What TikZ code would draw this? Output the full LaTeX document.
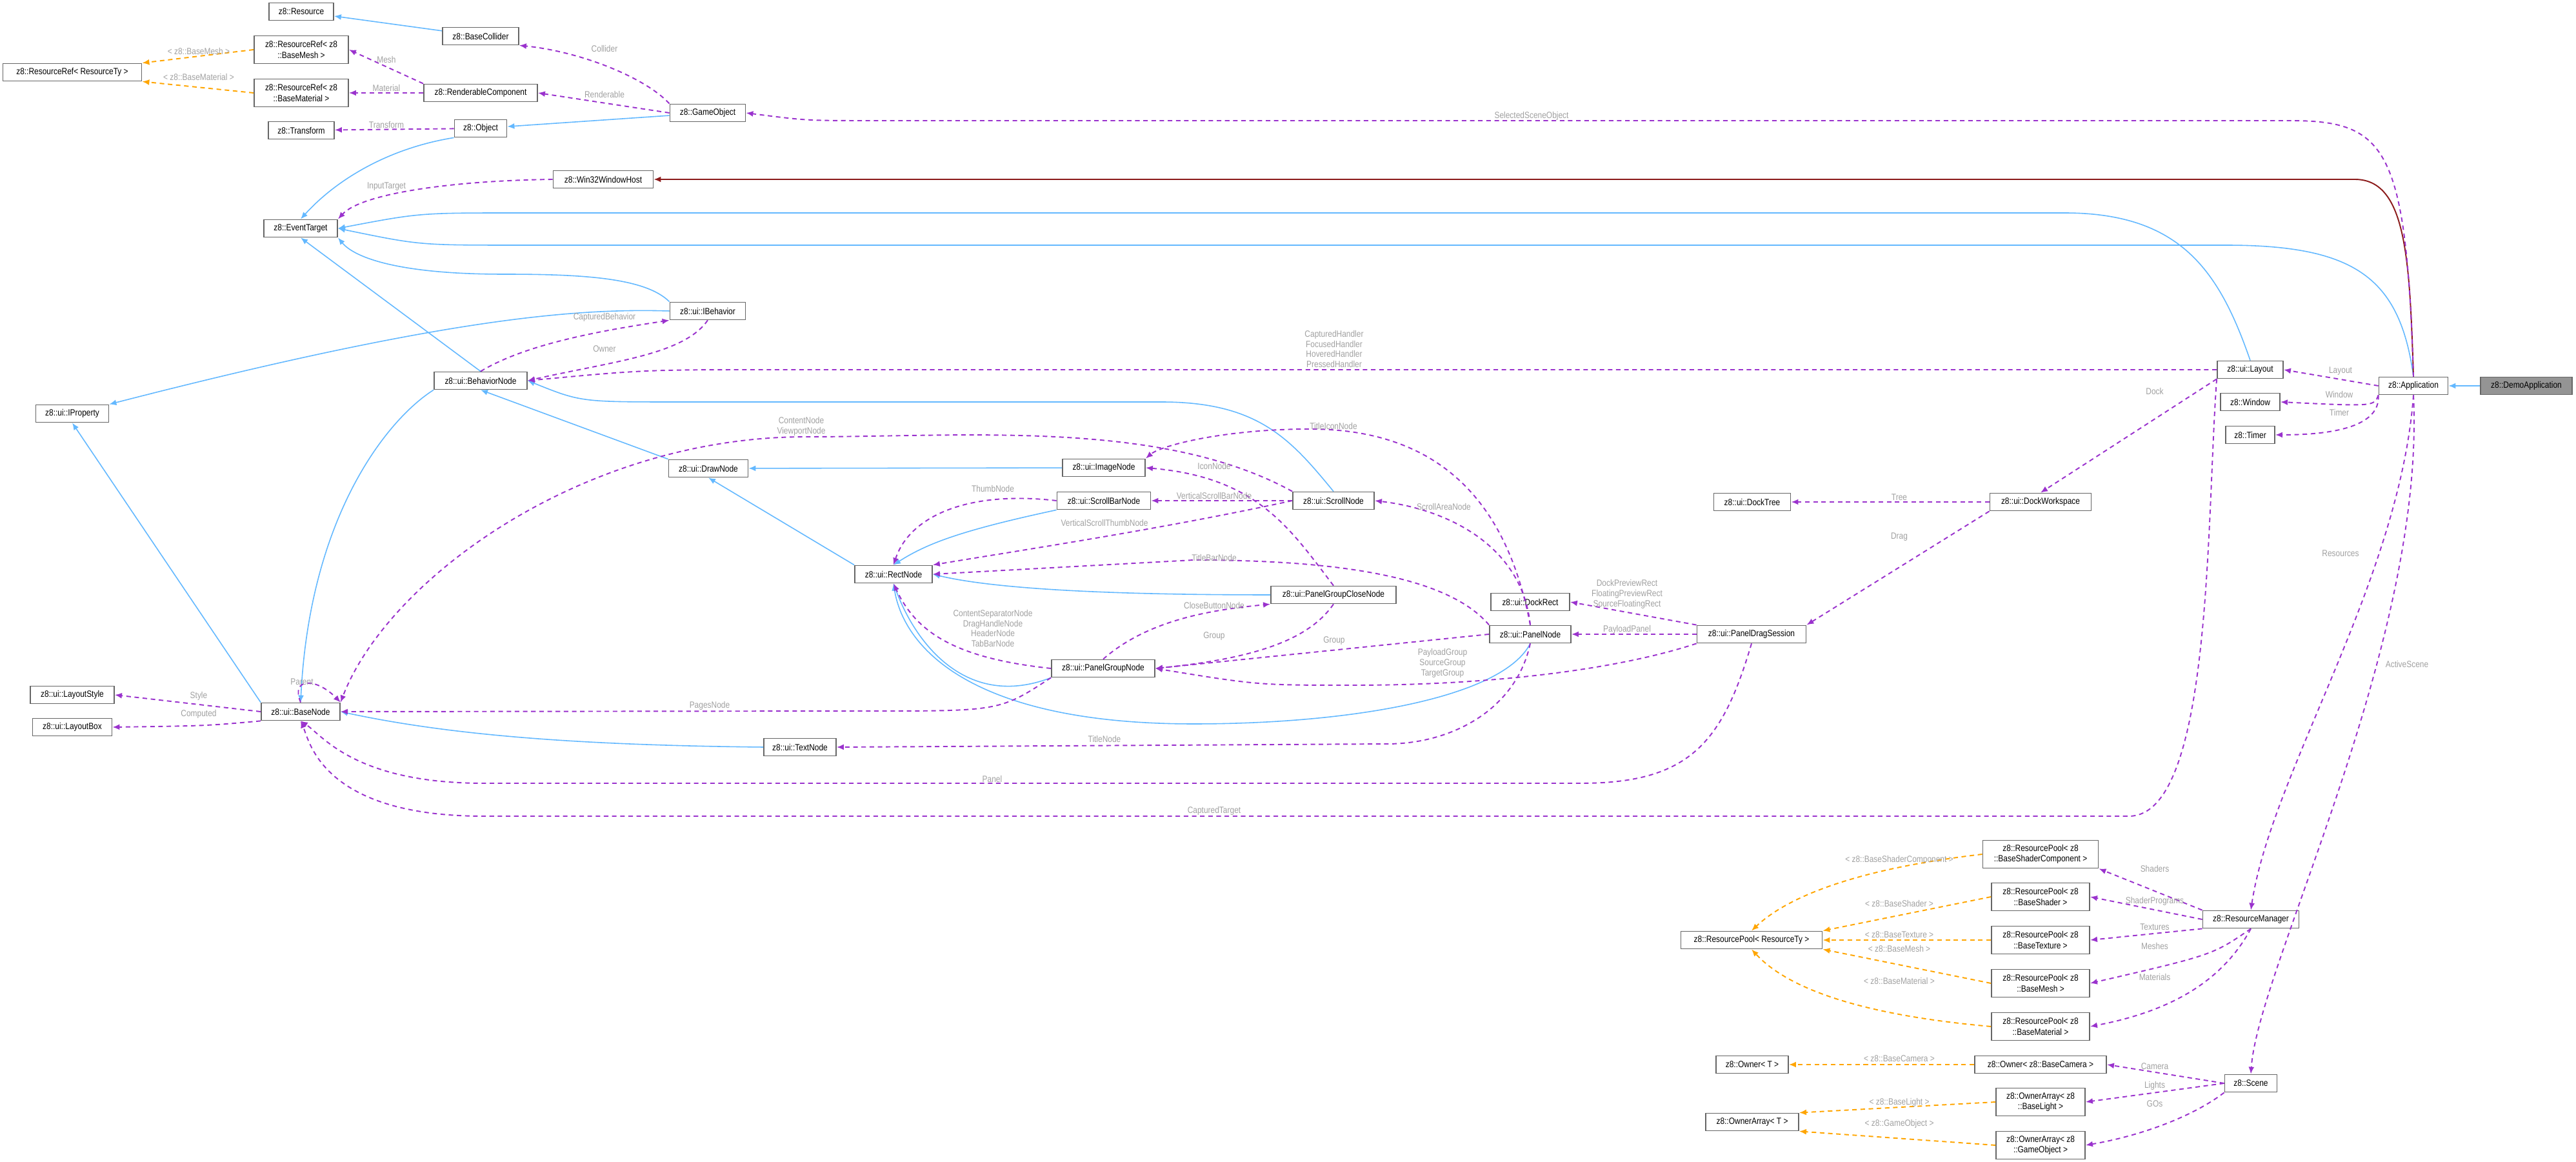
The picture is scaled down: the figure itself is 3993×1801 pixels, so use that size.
\documentclass[tikz,border=0pt]{standalone}
\usepackage{fontspec}
\setmainfont{Liberation Sans}[FakeStretch=0.85]
\usetikzlibrary{arrows.meta,positioning}
\definecolor{inherit}{RGB}{99,184,255}
\definecolor{usage}{RGB}{154,50,205}
\definecolor{templ}{RGB}{255,165,0}
\definecolor{privat}{RGB}{139,26,26}
\definecolor{boxgray}{RGB}{102,102,102}
\definecolor{lblgray}{RGB}{160,160,160}
\tikzset{x=0.01cm}
\tikzset{y=-0.01cm}
\tikzstyle{cls}=[draw=boxgray, fill=white, line width=0.5pt, minimum height=0.27cm, minimum width=#1, inner sep=0.5pt, align=center, font=\fontsize{4}{4.6}\selectfont]
\tikzstyle{cls2}=[cls=#1, minimum height=0.43cm]
\tikzstyle{lbl}=[text=lblgray, inner sep=0pt, align=center, font=\fontsize{4}{4.5}\selectfont]
\tikzset{inh/.style={-{Latex[length=0.11cm,width=0.09cm]}, inherit, line width=0.45pt}}
\tikzset{use/.style={-{Latex[length=0.11cm,width=0.09cm]}, usage, line width=0.55pt, dash pattern=on 2pt off 1.6pt}}
\tikzset{tpl/.style={-{Latex[length=0.11cm,width=0.09cm]}, templ, line width=0.55pt, dash pattern=on 2pt off 1.6pt}}
\tikzset{priv/.style={-{Latex[length=0.11cm,width=0.09cm]}, privat, line width=0.55pt}}
\begin{document}
\begin{tikzpicture}
  \useasboundingbox (0,0) rectangle (3993,1801);
  %% core classes
  \node[cls=1cm] (res) at (467,18) {z8::Resource};
  \node[cls=1.18cm] (bcol) at (745,56) {z8::BaseCollider};
  \node[cls2=1.46cm] (rrmesh) at (467,77) {z8::ResourceRef< z8\\::BaseMesh >};
  \node[cls=2.15cm] (rrty) at (112,112) {z8::ResourceRef< ResourceTy >};
  \node[cls2=1.46cm] (rrmat) at (467,144) {z8::ResourceRef< z8\\::BaseMaterial >};
  \node[cls=1.76cm] (rend) at (745,144) {z8::RenderableComponent};
  \node[cls=1.17cm] (gobj) at (1097,175) {z8::GameObject};
  \node[cls=1.02cm] (trans) at (467,202) {z8::Transform};
  \node[cls=0.81cm] (obj) at (745,199) {z8::Object};
  \node[cls=1.55cm] (win32) at (935,278) {z8::Win32WindowHost};
  \node[cls=1.14cm] (evt) at (466,354) {z8::EventTarget};
  \node[cls=1.17cm] (ibeh) at (1097,482) {z8::ui::IBehavior};
  \node[cls=1.44cm] (bnode) at (745,590) {z8::ui::BehaviorNode};
  \node[cls=1.13cm] (iprop) at (112,641) {z8::ui::IProperty};

  %% ui nodes
  \node[cls=1.23cm] (draw) at (1098,726) {z8::ui::DrawNode};
  \node[cls=1.28cm] (img) at (1711,725) {z8::ui::ImageNode};
  \node[cls=1.45cm] (sbar) at (1711,776) {z8::ui::ScrollBarNode};
  \node[cls=1.26cm] (scroll) at (2067,776) {z8::ui::ScrollNode};
  \node[cls=1.20cm] (rect) at (1385,890) {z8::ui::RectNode};
  \node[cls=1.94cm] (pgclose) at (2067,922) {z8::ui::PanelGroupCloseNode};
  \node[cls=1.60cm] (pgroup) at (1710,1036) {z8::ui::PanelGroupNode};
  \node[cls=1.26cm] (panel) at (2372,983) {z8::ui::PanelNode};
  \node[cls=1.22cm] (drect) at (2372,933) {z8::ui::DockRect};
  \node[cls=1.69cm] (drag) at (2715,983) {z8::ui::PanelDragSession};
  \node[cls=1.19cm] (dtree) at (2716,778) {z8::ui::DockTree};
  \node[cls=1.57cm] (dws) at (3163,778) {z8::ui::DockWorkspace};
  \node[cls=1.30cm] (lstyle) at (112,1077) {z8::ui::LayoutStyle};
  \node[cls=1.23cm] (lbox) at (112,1127) {z8::ui::LayoutBox};
  \node[cls=1.22cm] (base) at (466,1103) {z8::ui::BaseNode};
  \node[cls=1.12cm] (text) at (1240,1158) {z8::ui::TextNode};

  %% application side
  \node[cls=1.02cm] (layout) at (3488,573) {z8::ui::Layout};
  \node[cls=1.07cm] (app) at (3741,598) {z8::Application};
  \node[cls=1.42cm, fill=boxgray!70] (demo) at (3916,598) {z8::DemoApplication};
  \node[cls=0.92cm] (window) at (3488,623) {z8::Window};
  \node[cls=0.76cm] (timer) at (3488,674) {z8::Timer};
  \node[cls=1.49cm] (rman) at (3489,1425) {z8::ResourceManager};
  \node[cls=0.81cm] (scene) at (3489,1679) {z8::Scene};

  %% resource pools and owners
  \node[cls2=1.79cm] (rpcomp) at (3163,1324) {z8::ResourcePool< z8\\::BaseShaderComponent >};
  \node[cls2=1.52cm] (rpshader) at (3163,1390) {z8::ResourcePool< z8\\::BaseShader >};
  \node[cls2=1.52cm] (rptex) at (3163,1457) {z8::ResourcePool< z8\\::BaseTexture >};
  \node[cls2=1.52cm] (rpmesh) at (3163,1524) {z8::ResourcePool< z8\\::BaseMesh >};
  \node[cls2=1.52cm] (rpmat) at (3163,1591) {z8::ResourcePool< z8\\::BaseMaterial >};
  \node[cls=2.19cm] (rpty) at (2715,1457) {z8::ResourcePool< ResourceTy >};
  \node[cls=1.12cm] (ownt) at (2716,1650) {z8::Owner< T >};
  \node[cls=2.04cm] (owncam) at (3163,1650) {z8::Owner< z8::BaseCamera >};
  \node[cls=1.44cm] (oat) at (2716,1739) {z8::OwnerArray< T >};
  \node[cls2=1.38cm] (oalight) at (3163,1708) {z8::OwnerArray< z8\\::BaseLight >};
  \node[cls2=1.38cm] (oago) at (3163,1775) {z8::OwnerArray< z8\\::GameObject >};

  %% inheritance
  \draw[inh] (bcol) -- (res);
  \draw[inh] (gobj) -- (obj);
  \draw[inh] (obj.south west) .. controls (600,230) and (520,280) .. (evt.north);
  \draw[inh] (layout.north) .. controls (3440,420) and (3380,330) .. (3200,330) -- (800,330) .. controls (650,330) .. (evt.east);
  \draw[inh] (app.north) .. controls (3720,430) and (3650,380) .. (3450,380) -- (800,380) .. controls (650,380) .. (evt.east);
  \draw[inh] (ibeh.north west) .. controls (1000,430) and (900,425) .. (780,425) .. controls (620,425) and (550,400) .. (evt.south east);
  \draw[inh] (bnode.north) -- (evt.south);
  \draw[inh] (ibeh.west) .. controls (900,478) and (700,490) .. (iprop.north east);
  \draw[inh] (base.north west) -- (iprop.south);
  \draw[inh] (bnode.south west) .. controls (600,650) and (480,800) .. (base.north);
  \draw[inh] (draw.north west) -- (bnode.south);
  \draw[inh] (scroll.north) .. controls (2000,680) and (1950,623) .. (1800,623) -- (1050,623) .. controls (900,623) .. (bnode.east);
  \draw[inh] (img) -- (draw);
  \draw[inh] (rect.north west) -- (draw.south);
  \draw[inh] (sbar.south west) .. controls (1500,820) and (1440,840) .. (rect.north);
  \draw[inh] (pgclose.west) .. controls (1750,922) and (1550,915) .. (rect.east);
  \draw[inh] (pgroup.south west) .. controls (1500,1100) and (1420,1000) .. (rect.south);
  \draw[inh] (panel.south) .. controls (2330,1080) and (2100,1122) .. (1850,1122) .. controls (1500,1122) and (1400,1000) .. (rect.south);
  \draw[inh] (text.west) .. controls (900,1155) and (700,1140) .. (base.east);
  \draw[inh] (demo) -- (app);
  \draw[priv] (app.north) .. controls (3735,400) and (3730,278) .. (3650,278) -- (win32.east);

  %% members
  \draw[use] (gobj.north west) .. controls (1000,120) and (900,80) .. (bcol.south east);
  \draw[use] (rend.north west) -- (rrmesh.east);
  \draw[use] (rend) -- (rrmat);
  \draw[use] (gobj.west) -- (rend.east);
  \draw[use] (obj) -- (trans);
  \draw[use] (win32.west) .. controls (700,280) and (560,300) .. (evt.north east);
  \draw[use] (app.north) .. controls (3730,230) and (3700,187) .. (3550,187) -- (1350,187) .. controls (1250,187) .. (gobj.east);
  \draw[use] (bnode.north) .. controls (820,530) and (950,510) .. (ibeh.south west);
  \draw[use] (ibeh.south) .. controls (1060,550) and (950,560) .. (bnode.east);
  \draw[use] (layout.west) -- (1200,573) .. controls (1000,573) .. (bnode.east);
  \draw[use] (base.north) .. controls (450,1050) and (490,1050) .. (base.north east);
  \draw[use] (base.west) -- (lstyle.east);
  \draw[use] (base.south west) .. controls (320,1125) .. (lbox.east);
  \draw[use] (scroll.north west) .. controls (1800,650) and (1500,677) .. (1250,677) .. controls (900,677) and (600,900) .. (base.north east);
  \draw[use] (panel.north) .. controls (2340,800) and (2250,665) .. (2030,665) .. controls (1900,665) and (1800,690) .. (img.north east);
  \draw[use] (pgclose.north) .. controls (2000,820) and (1950,740) .. (img.east);
  \draw[use] (sbar.west) .. controls (1500,760) and (1410,800) .. (rect.north);
  \draw[use] (scroll) -- (sbar);
  \draw[use] (scroll.west) .. controls (1800,820) and (1600,850) .. (rect.north east);
  \draw[use] (panel.north west) .. controls (2250,900) and (2100,868) .. (1850,868) -- (rect.east);
  \draw[use] (panel.north) .. controls (2360,850) and (2250,790) .. (scroll.east);
  \draw[use] (pgroup.west) .. controls (1480,1020) and (1420,980) .. (rect.south);
  \draw[use] (pgroup.north) .. controls (1780,960) and (1880,945) .. (pgclose.south west);
  \draw[use] (pgclose.south) .. controls (2030,990) and (1950,1020) .. (pgroup.east);
  \draw[use] (panel.west) -- (pgroup.east);
  \draw[use] (drag.south west) .. controls (2500,1040) and (2300,1062) .. (2100,1062) .. controls (1950,1062) .. (pgroup.east);
  \draw[use] (pgroup.south west) .. controls (1550,1102) .. (1350,1102) -- (base.east);
  \draw[use] (panel.south) .. controls (2350,1100) and (2250,1153) .. (2150,1153) -- (text.east);
  \draw[use] (drag.south) .. controls (2670,1150) and (2620,1214) .. (2450,1214) -- (750,1214) .. controls (550,1214) and (500,1140) .. (base.south);
  \draw[use] (layout.south west) .. controls (3420,800) and (3430,1265) .. (3300,1265) -- (750,1265) .. controls (500,1265) and (480,1150) .. (base.south);
  \draw[use] (drag.north west) -- (drect.east);
  \draw[use] (drag) -- (panel);
  \draw[use] (dws) -- (dtree);
  \draw[use] (dws.south west) -- (drag.north east);
  \draw[use] (layout.south west) -- (dws.north);
  \draw[use] (app.west) -- (layout.east);
  \draw[use] (app.south west) .. controls (3680,630) .. (window.east);
  \draw[use] (app.south west) .. controls (3690,660) and (3620,674) .. (timer.east);
  \draw[use] (app.south) .. controls (3720,900) and (3520,1200) .. (rman.north);
  \draw[use] (app.south) .. controls (3760,1000) and (3500,1500) .. (scene.north);
  \draw[use] (rman.north west) -- (rpcomp.south east);
  \draw[use] (rman.west) -- (rpshader.east);
  \draw[use] (rman.south west) -- (rptex.east);
  \draw[use] (rman.south) .. controls (3430,1480) .. (rpmesh.east);
  \draw[use] (rman.south) .. controls (3440,1530) and (3350,1570) .. (rpmat.east);
  \draw[use] (scene.west) -- (owncam.east);
  \draw[use] (scene.west) -- (oalight.east);
  \draw[use] (scene.south west) .. controls (3400,1730) and (3320,1760) .. (oago.east);

  %% template instances
  \draw[tpl] (rrmesh.west) -- (rrty.north east);
  \draw[tpl] (rrmat.west) -- (rrty.south east);
  \draw[tpl] (rpcomp.west) .. controls (2850,1350) and (2760,1400) .. (rpty.north);
  \draw[tpl] (rpshader.west) -- (rpty.north east);
  \draw[tpl] (rptex) -- (rpty);
  \draw[tpl] (rpmesh.west) -- (rpty.south east);
  \draw[tpl] (rpmat.west) .. controls (2850,1570) and (2760,1520) .. (rpty.south);
  \draw[tpl] (owncam) -- (ownt);
  \draw[tpl] (oalight.west) -- (oat.north east);
  \draw[tpl] (oago.west) -- (oat.south east);

  %% Member names
  \node[lbl] (lcollider) at (937,75) {Collider};
  \node[lbl] (lmesh) at (599,92) {Mesh};
  \node[lbl] (lmaterial) at (599,136) {Material};
  \node[lbl] (lrenderable) at (937,146) {Renderable};
  \node[lbl] (ltransform) at (599,193) {Transform};
  \node[lbl] (linput) at (599,289) {InputTarget};
  \node[lbl] (lsel) at (2374,180) {SelectedSceneObject};
  \node[lbl] (lcapbeh) at (937,492) {CapturedBehavior};
  \node[lbl] (lowner) at (937,541) {Owner};
  \node[lbl] (lhandlers) at (2068,541) {CapturedHandler\\FocusedHandler\\HoveredHandler\\PressedHandler};
  \node[lbl] (lcontent) at (1242,661) {ContentNode\\ViewportNode};
  \node[lbl] (ltitleicon) at (2067,660) {TitleIconNode};
  \node[lbl] (licon) at (1882,722) {IconNode};
  \node[lbl] (lthumb) at (1539,757) {ThumbNode};
  \node[lbl] (lvsbar) at (1882,768) {VerticalScrollBarNode};
  \node[lbl] (lscrollarea) at (2238,785) {ScrollAreaNode};
  \node[lbl] (lvsthumb) at (1712,810) {VerticalScrollThumbNode};
  \node[lbl] (ltitlebar) at (1882,864) {TitleBarNode};
  \node[lbl] (lclose) at (1882,938) {CloseButtonNode};
  \node[lbl] (lsep) at (1539,974) {ContentSeparatorNode\\DragHandleNode\\HeaderNode\\TabBarNode};
  \node[lbl] (lgroupa) at (1882,986) {Group};
  \node[lbl] (lgroupb) at (2068,993) {Group};
  \node[lbl] (lpgroups) at (2236,1028) {PayloadGroup\\SourceGroup\\TargetGroup};
  \node[lbl] (lrects) at (2522,921) {DockPreviewRect\\FloatingPreviewRect\\SourceFloatingRect};
  \node[lbl] (lppanel) at (2522,976) {PayloadPanel};
  \node[lbl] (lparent) at (468,1057) {Parent};
  \node[lbl] (lstylel) at (308,1079) {Style};
  \node[lbl] (lcomputed) at (308,1107) {Computed};
  \node[lbl] (lpages) at (1100,1094) {PagesNode};
  \node[lbl] (ltitle) at (1712,1145) {TitleNode};
  \node[lbl] (lpanel) at (1538,1207) {Panel};
  \node[lbl] (lcaptarget) at (1882,1257) {CapturedTarget};
  \node[lbl] (llayout) at (3628,575) {Layout};
  \node[lbl] (ldock) at (3340,606) {Dock};
  \node[lbl] (lwindow) at (3626,611) {Window};
  \node[lbl] (ltimer) at (3626,639) {Timer};
  \node[lbl] (ltree) at (2944,771) {Tree};
  \node[lbl] (ldrag) at (2944,832) {Drag};
  \node[lbl] (lres) at (3628,858) {Resources};
  \node[lbl] (lscene) at (3731,1029) {ActiveScene};
  \node[lbl] (lshaders) at (3340,1346) {Shaders};
  \node[lbl] (lprogs) at (3340,1397) {ShaderPrograms};
  \node[lbl] (ltextures) at (3340,1437) {Textures};
  \node[lbl] (lmeshes) at (3340,1466) {Meshes};
  \node[lbl] (lmaterials) at (3340,1514) {Materials};
  \node[lbl] (lcamera) at (3340,1653) {Camera};
  \node[lbl] (llights) at (3340,1683) {Lights};
  \node[lbl] (lgos) at (3340,1711) {GOs};
  %% Template arguments
  \node[lbl] (tmesh) at (308,79) {< z8::BaseMesh >};
  \node[lbl] (tmat) at (308,119) {< z8::BaseMaterial >};
  \node[lbl] (tcomp) at (2944,1333) {< z8::BaseShaderComponent >};
  \node[lbl] (tshader) at (2944,1400) {< z8::BaseShader >};
  \node[lbl] (ttex) at (2944,1449) {< z8::BaseTexture >};
  \node[lbl] (tmesh2) at (2944,1470) {< z8::BaseMesh >};
  \node[lbl] (tmat2) at (2944,1520) {< z8::BaseMaterial >};
  \node[lbl] (tcam) at (2944,1641) {< z8::BaseCamera >};
  \node[lbl] (tlight) at (2944,1709) {< z8::BaseLight >};
  \node[lbl] (tgo) at (2944,1742) {< z8::GameObject >};
\end{tikzpicture}
\end{document}
